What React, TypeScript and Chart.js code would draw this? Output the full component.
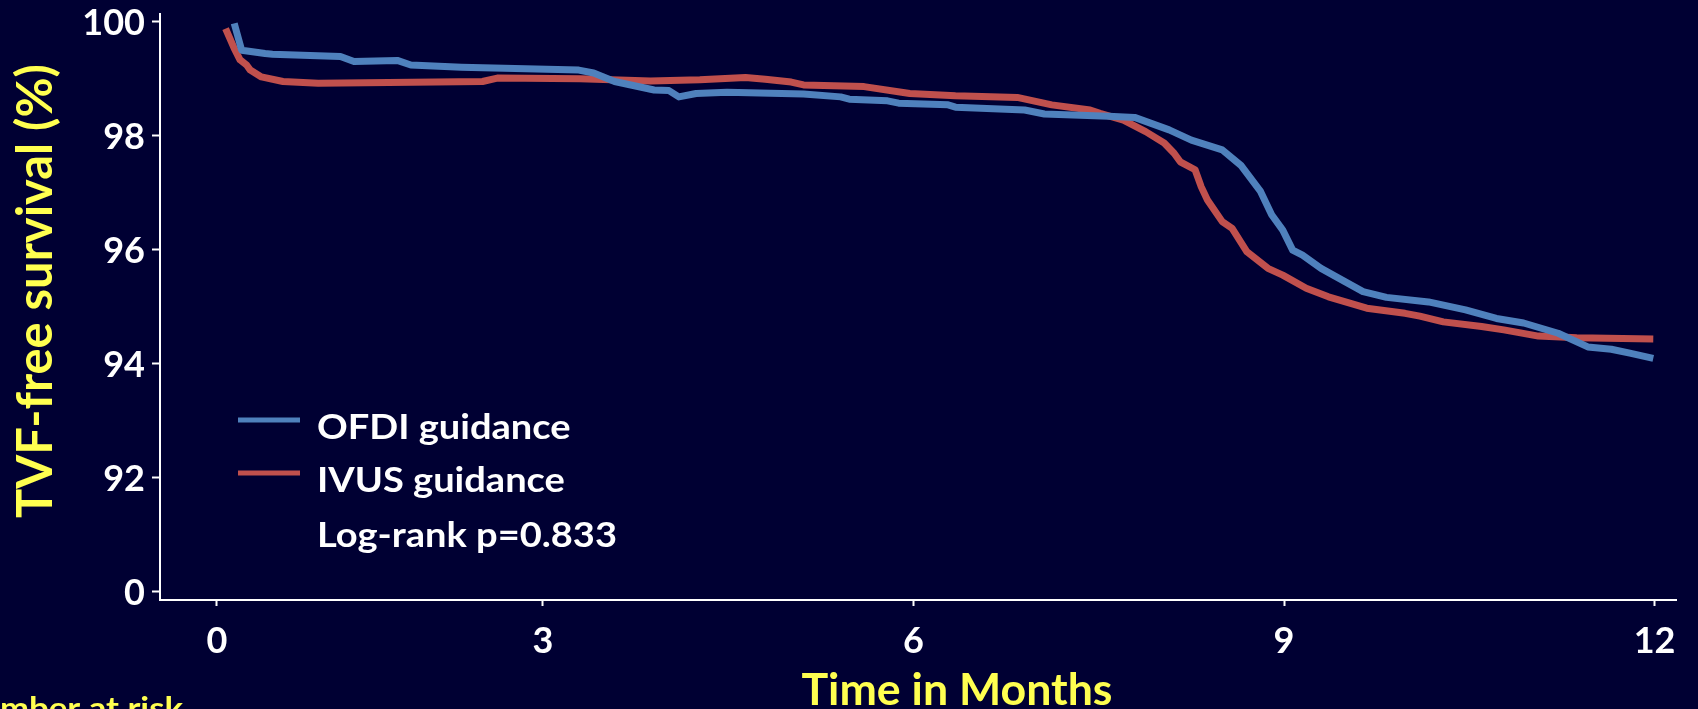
import React, { useEffect, useRef } from "react";
import { Chart, registerables } from "chart.js";

Chart.register(...registerables);

// ---------- data ----------
const seriesLabels = ["OFDI guidance", "IVUS guidance"];
const seriesColors = ["#4F81BD", "#C0504D"];

const ofdiMonths = [
  0.5, 0.56, 0.75, 0.81, 1.36, 1.47, 1.82, 1.93, 2.34, 3.29, 3.41, 3.58, 3.9, 4.02, 4.1, 4.24, 4.49,
  5.11, 5.41, 5.48, 5.79, 5.88, 6.28, 6.34, 6.9, 7.06, 7.58, 7.79, 8.07, 8.25, 8.5, 8.65, 8.81, 8.9,
  8.99, 9.07, 9.15, 9.3, 9.49, 9.64, 9.83, 10.17, 10.47, 10.72, 10.94, 11.22, 11.46, 11.65, 11.8, 11.99,
];
const ofdiSurvival = [
  99.97, 99.5, 99.44, 99.43, 99.39, 99.3, 99.32, 99.24, 99.2, 99.15, 99.1, 98.95, 98.8, 98.79, 98.68,
  98.74, 98.76, 98.73, 98.68, 98.64, 98.61, 98.57, 98.54, 98.5, 98.45, 98.38, 98.34, 98.32, 98.1,
  97.92, 97.75, 97.48, 97.02, 96.61, 96.34, 95.99, 95.9, 95.67, 95.44, 95.26, 95.16, 95.08, 94.94,
  94.79, 94.71, 94.53, 94.29, 94.25, 94.18, 94.09,
];

const ivusMonths = [
  0.43, 0.5, 0.547, 0.6, 0.63, 0.72, 0.895, 1.18, 2.51, 2.63, 3.3, 3.87, 4.27, 4.64, 4.8, 5.01, 5.11,
  5.6, 5.97, 6.34, 6.84, 7.12, 7.43, 7.51, 7.7, 7.88, 8.03, 8.11, 8.16, 8.28, 8.33, 8.38, 8.5, 8.58,
  8.7, 8.87, 8.99, 9.18, 9.36, 9.67, 9.98, 10.1, 10.29, 10.6, 10.78, 11.06, 11.37, 11.99,
];
const ivusSurvival = [
  99.88, 99.53, 99.33, 99.24, 99.15, 99.03, 98.95, 98.92, 98.95, 99.01, 99.0, 98.96, 98.98, 99.02,
  98.99, 98.94, 98.89, 98.86, 98.74, 98.7, 98.67, 98.54, 98.45, 98.39, 98.27, 98.07, 97.87, 97.69,
  97.54, 97.4, 97.1, 96.87, 96.49, 96.37, 95.96, 95.67, 95.55, 95.32, 95.17, 94.97, 94.88, 94.83,
  94.73, 94.65, 94.59, 94.48, 94.45, 94.43,
];

const xTickValues = [0.36, 3, 6, 9, 12];
const xTickLabels = ["0", "3", "6", "9", "12"];
const yTickValues = [90, 92, 94, 96, 98, 100];
const yTickLabels = ["0", "92", "94", "96", "98", "100"];

const xTitle = "Time in Months";
const yTitle = "TVF-free survival (%)";
const pValueText = "Log-rank p=0.833";
const riskTitle = "Number at risk";

// ---------- style ----------
const BG = "#000033";
const YELLOW = "#FFFF50";
const WHITE = "#FFFFFF";
const FONT = "Lato, 'Open Sans', sans-serif";

function drawFitted(
  ctx: CanvasRenderingContext2D,
  text: string,
  size: number,
  targetWidth: number,
  align: CanvasTextAlign,
  color: string,
  measureText?: string
) {
  ctx.font = `bold ${size}px ${FONT}`;
  const w = ctx.measureText(measureText || text).width;
  const sx = targetWidth / w;
  ctx.save();
  ctx.scale(sx, 1);
  ctx.textAlign = align;
  ctx.textBaseline = "alphabetic";
  ctx.fillStyle = color;
  ctx.fillText(text, 0, 0);
  ctx.restore();
}

const decorPlugin = {
  id: "decor",
  beforeDraw(chart: any) {
    const ctx = chart.ctx;
    ctx.save();
    ctx.fillStyle = BG;
    ctx.fillRect(0, 0, chart.width, chart.height);
    ctx.restore();
  },
  afterDraw(chart: any) {
    const ctx: CanvasRenderingContext2D = chart.ctx;
    // y title
    ctx.save();
    ctx.translate(52, 291);
    ctx.rotate(-Math.PI / 2);
    drawFitted(ctx, yTitle, 49, 454, "center", YELLOW);
    ctx.restore();
    // x title
    ctx.save();
    ctx.translate(957, 705);
    drawFitted(ctx, xTitle, 43, 311, "center", YELLOW);
    ctx.restore();
    // legend
    const ds = chart.data.datasets;
    const rows = [420, 473];
    ds.forEach((d: any, i: number) => {
      ctx.save();
      ctx.strokeStyle = d.borderColor;
      ctx.lineWidth = 5;
      ctx.beginPath();
      ctx.moveTo(238, rows[i]);
      ctx.lineTo(300, rows[i]);
      ctx.stroke();
      ctx.restore();
    });
    ctx.font = `bold 33.5px ${FONT}`;
    const lsx = 300 / ctx.measureText(pValueText).width;
    const legendTexts = [ds[0].label, ds[1].label, pValueText];
    const baselines = [439, 492, 547];
    legendTexts.forEach((t: string, i: number) => {
      ctx.save();
      ctx.translate(317, baselines[i]);
      ctx.scale(lsx, 1);
      ctx.font = `bold 33.5px ${FONT}`;
      ctx.fillStyle = WHITE;
      ctx.textAlign = "left";
      ctx.textBaseline = "alphabetic";
      ctx.fillText(t, 0, 0);
      ctx.restore();
    });
    // number at risk (cut off at the bottom of the picture)
    ctx.save();
    ctx.translate(183, 719);
    drawFitted(ctx, riskTitle, 30, 183, "right", YELLOW, riskTitle.slice(2));
    ctx.restore();
  },
};

export default function App() {
  const ref = useRef<HTMLCanvasElement | null>(null);

  useEffect(() => {
    if (!ref.current) return;
    const chart = new Chart(ref.current, {
      type: "line",
      data: {
        datasets: [
          {
            label: seriesLabels[0],
            data: ofdiMonths.map((m, i) => ({ x: m, y: ofdiSurvival[i] })),
            borderColor: seriesColors[0],
            backgroundColor: seriesColors[0],
            borderWidth: 7,
            pointRadius: 0,
            tension: 0,
            fill: false,
            borderJoinStyle: "round",
          },
          {
            label: seriesLabels[1],
            data: ivusMonths.map((m, i) => ({ x: m, y: ivusSurvival[i] })),
            borderColor: seriesColors[1],
            backgroundColor: seriesColors[1],
            borderWidth: 7,
            pointRadius: 0,
            tension: 0,
            fill: false,
            borderJoinStyle: "round",
          },
        ],
      },
      options: {
        animation: false,
        responsive: false,
        devicePixelRatio: 1,
        layout: { padding: { left: 0, top: 14, right: 22, bottom: 0 } },
        plugins: { legend: { display: false }, tooltip: { enabled: false } },
        scales: {
          x: {
            type: "linear",
            min: -0.101,
            max: 12.174,
            afterBuildTicks: (s: any) => {
              s.ticks = xTickValues.map((v) => ({ value: v }));
            },
            afterFit: (s: any) => {
              s.height = 109;
              s.paddingLeft = 0;
              s.paddingRight = 0;
            },
            ticks: {
              autoSkip: false,
              maxRotation: 0,
              color: WHITE,
              padding: 14,
              font: { family: FONT, size: 36, weight: "bold" },
              callback: (v: any) => xTickLabels[xTickValues.indexOf(v)] ?? "",
            },
            grid: { drawOnChartArea: false, drawTicks: true, tickLength: 6, color: WHITE, tickWidth: 2 },
            border: { display: true, color: WHITE, width: 2 },
          },
          y: {
            type: "linear",
            min: 89.847,
            max: 100.135,
            afterBuildTicks: (s: any) => {
              s.ticks = yTickValues.map((v) => ({ value: v }));
            },
            afterFit: (s: any) => {
              s.width = 160;
              s.paddingTop = 0;
              s.paddingBottom = 0;
            },
            ticks: {
              autoSkip: false,
              color: WHITE,
              padding: 7,
              labelOffset: 2,
              font: { family: FONT, size: 36, weight: "bold" },
              callback: (v: any) => yTickLabels[yTickValues.indexOf(v)] ?? "",
            },
            grid: { drawOnChartArea: false, drawTicks: true, tickLength: 8, color: WHITE, tickWidth: 2 },
            border: { display: true, color: WHITE, width: 2 },
          },
        },
      },
      plugins: [decorPlugin],
    } as any);
    return () => chart.destroy();
  }, []);

  return (
    <div style={{ position: "fixed", left: 0, top: 0, width: 1698, height: 709, background: BG, overflow: "hidden" }}>
      <canvas ref={ref} width={1698} height={709} style={{ display: "block", width: 1698, height: 709 }} />
    </div>
  );
}
